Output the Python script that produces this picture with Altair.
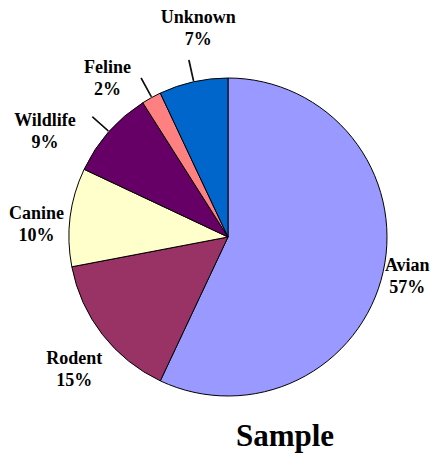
import altair as alt
import pandas as pd

categories = ["Avian", "Rodent", "Canine", "Wildlife", "Feline", "Unknown"]
values = [57, 15, 10, 9, 2, 7]
colors = ["#9999FF", "#993366", "#FFFFCC", "#660066", "#FF8080", "#0066CC"]
leader_for = ["Wildlife", "Feline", "Unknown"]

# label nudges (pixels) relative to the polar label position
label_nudge = {
    "Avian": (-12, -14),
    "Rodent": (1, 2),
    "Canine": (3, 2),
    "Wildlife": (-36, 14),
    "Feline": (-26, 3),
    "Unknown": (13, -28),
}

df = pd.DataFrame({
    "category": categories,
    "value": values,
    "idx": list(range(len(categories))),
})
df["label"] = [f"{c}\n{v}%" for c, v in zip(categories, values)]

CX, CY = 220, 229
R = 159

color = alt.Color("category:N", scale=alt.Scale(domain=categories, range=colors), legend=None)
order = alt.Order("idx:Q")

base = alt.Chart(df)

pie = base.mark_arc(radius=R, stroke="black", strokeWidth=1).encode(
    theta=alt.Theta("value:Q", stack=True),
    color=color,
    order=order,
    x=alt.value(CX),
    y=alt.value(CY),
)

leaders = base.transform_window(
    cum="sum(value)", sort=[alt.SortField("idx")]
).transform_calculate(
    mid="datum.cum - datum.value / 2",
    mid2="datum.cum - datum.value / 2 + 0.08",
).transform_filter(
    alt.FieldOneOfPredicate(field="category", oneOf=leader_for)
).mark_arc(radius=160, radius2=181, fill="black", stroke="black", strokeWidth=0.8).encode(
    theta=alt.Theta("mid:Q", scale=alt.Scale(domain=[0, 100])),
    theta2="mid2:Q",
    x=alt.value(CX),
    y=alt.value(CY),
)

label_layers = []
for cat in categories:
    ndx, ndy = label_nudge[cat]
    label_layers.append(
        base.mark_text(
            radius=196, font="Liberation Serif", fontWeight="bold", fontSize=18,
            lineBreak="\n", lineHeight=22, color="black", align="center",
            baseline="middle", dx=ndx, dy=ndy,
        ).encode(
            theta=alt.Theta("value:Q", stack=True),
            text=alt.condition(alt.datum.category == cat, "label:N", alt.value("")),
            order=order,
            x=alt.value(CX),
            y=alt.value(CY),
        )
    )

chart = alt.layer(pie, leaders, *label_layers).resolve_scale(theta="independent").properties(
    width=422,
    height=416,
    padding={"left": 0, "top": 0, "right": 0, "bottom": 34},
    autosize=alt.AutoSizeParams(type="none"),
    title=alt.TitleParams(
        "Sample", orient="bottom", anchor="middle", dx=66, offset=-2,
        font="Liberation Serif", fontSize=31, fontWeight="bold", color="black",
        baseline="top",
    ),
).configure_view(stroke=None)

chart.save("out.html", embed_options={"renderer": "svg", "actions": False})
